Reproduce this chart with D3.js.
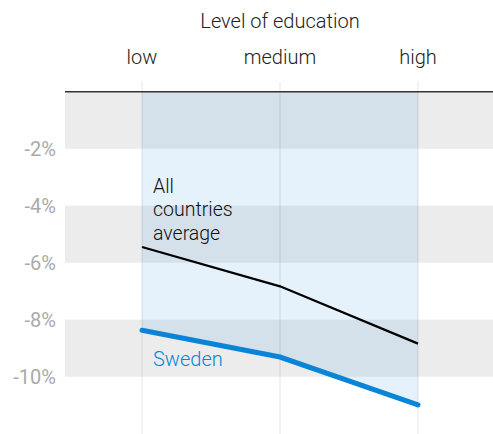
<!DOCTYPE html>
<html><head><meta charset="utf-8">
<script src="https://cdn.jsdelivr.net/npm/d3@7"></script>
<style>body{margin:0;background:#fff}svg{display:block}text{font-family:Roboto,"Open Sans",sans-serif}</style>
</head><body><svg id="c" width="493" height="434"></svg>
<script>
const categories = ["low","medium","high"];
const allCountries = [-5.45,-6.83,-8.84];
const sweden = [-8.37,-9.31,-10.99];
const yTicks = [-2,-4,-6,-8,-10];
const bands = [[0,-2],[-4,-6],[-8,-10]];
const allLabel = ["All","countries","average"];

const svg = d3.select("#c");
const W=493,H=434;
const x = d3.scalePoint().domain(categories).range([142,418]);
const y = d3.scaleLinear().domain([0,-10]).range([91.7,376.7]);
const left=65;

svg.selectAll("rect.band").data(bands).join("rect")
  .attr("x",left).attr("width",W-left)
  .attr("y",d=>y(d[0])).attr("height",d=>y(d[1])-y(d[0]))
  .attr("fill","#ececec");

const area = d3.area().x((d,i)=>x(categories[i])).y0(y(0)).y1(d=>y(d));
svg.append("path").datum(sweden).attr("d",area)
  .attr("fill","#0a84d6").attr("fill-opacity",0.105);

svg.selectAll("line.v").data(categories).join("line")
  .attr("x1",d=>x(d)).attr("x2",d=>x(d)).attr("y1",82).attr("y2",H)
  .attr("stroke","#000").attr("stroke-opacity",0.07).attr("stroke-width",1.5);

svg.append("line").attr("x1",left).attr("x2",W).attr("y1",y(0)).attr("y2",y(0))
  .attr("stroke","#333").attr("stroke-width",1.6);

svg.selectAll("text.yt").data(yTicks).join("text")
  .attr("x",56).attr("y",d=>y(d)).attr("dy","0.35em")
  .attr("text-anchor","end").attr("fill","#aaaaaa").attr("font-size",20)
  .text(d=>d+"%");

svg.selectAll("text.xt").data(categories).join("text")
  .attr("x",d=>x(d)).attr("y",64).attr("text-anchor","middle")
  .attr("fill","#222").attr("font-size",20).attr("font-weight",300).text(d=>d);
svg.append("text").attr("x",280).attr("y",28).attr("text-anchor","middle")
  .attr("fill","#222").attr("font-size",20).attr("font-weight",300).text("Level of education");

const line = d3.line().x((d,i)=>x(categories[i])).y(d=>y(d));
svg.append("path").datum(allCountries).attr("d",line).attr("fill","none")
  .attr("stroke","#000").attr("stroke-width",2.2);
svg.append("path").datum(sweden).attr("d",line).attr("fill","none")
  .attr("stroke","#0a84d6").attr("stroke-width",5).attr("stroke-linecap","round");

svg.selectAll("text.lab").data(allLabel).join("text")
  .attr("x",153).attr("y",(d,i)=>193+i*23.3).attr("font-size",19.5).attr("font-weight",300).attr("fill","#111").text(d=>d);
svg.append("text").attr("x",153).attr("y",366).attr("font-size",20).attr("font-weight",300).attr("fill","#0a84d6").text("Sweden");
</script></body></html>
